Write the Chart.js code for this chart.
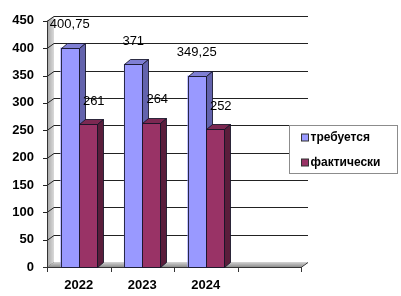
<!DOCTYPE html>
<html>
<head>
<meta charset="utf-8">
<script src="https://cdn.jsdelivr.net/npm/chart.js@4/dist/chart.umd.min.js"></script>
<style>
  html, body { margin: 0; padding: 0; background: #ffffff; }
  #wrap { width: 401px; height: 296px; position: relative; }
</style>
</head>
<body>
<div id="wrap"><canvas id="chart"></canvas></div>
<script>
// data (the 4th slot is empty in the original)
const years = ["2022", "2023", "2024", ""];
const required = [400.75, 371, 349.25, null];
const actual = [261, 264, 252, null];
const seriesNames = ["требуется", "фактически"];
const yMax = 450;
const yStep = 50;

const FONT = "'Liberation Sans', Arial, sans-serif";
const WALL_DX = 7;
const WALL_DY = 5;
const BAR_DX = 6;
const BAR_DY = 5;

const palette = [
  { front: "#9999ff", top: "#7f7fd4", side: "#6363ad" },
  { front: "#993366", top: "#7c2852", side: "#5a1d3b" },
];
const labelShift = [0, 6];

function formatValue(value) {
  return String(value).replace(".", ",");
}

function shape(ctx, points, fill) {
  ctx.beginPath();
  ctx.moveTo(points[0][0], points[0][1]);
  points.slice(1).forEach((p) => ctx.lineTo(p[0], p[1]));
  ctx.closePath();
  ctx.fillStyle = fill;
  ctx.fill();
  ctx.stroke();
}

const depthPlugin = {
  id: "depth3d",
  beforeDatasetsDraw(chart) {
    const { ctx, chartArea: area } = chart;
    const yScale = chart.scales.y;
    const xScale = chart.scales.x;
    const { left, right, top, bottom } = area;

    ctx.save();
    ctx.fillStyle = "#ffffff";
    ctx.fillRect(left + WALL_DX, top - WALL_DY, right - left, bottom - top);

    // left side wall
    const sideGrad = ctx.createLinearGradient(left, 0, left + WALL_DX, 0);
    sideGrad.addColorStop(0, "#a4a4a4");
    sideGrad.addColorStop(1, "#dadada");
    ctx.beginPath();
    ctx.moveTo(left, top);
    ctx.lineTo(left + WALL_DX, top - WALL_DY);
    ctx.lineTo(left + WALL_DX, bottom - WALL_DY);
    ctx.lineTo(left, bottom);
    ctx.closePath();
    ctx.fillStyle = sideGrad;
    ctx.fill();

    // gridlines on the back wall, ticks across the side wall
    ctx.lineWidth = 1;
    yScale.ticks.forEach((tick) => {
      const py = Math.round(yScale.getPixelForValue(tick.value)) + 0.5;
      ctx.strokeStyle = "#222222";
      ctx.beginPath();
      ctx.moveTo(left - 4, py);
      ctx.lineTo(left, py);
      ctx.lineTo(left + WALL_DX, py - WALL_DY);
      if (tick.value !== 0) {
        ctx.lineTo(right + WALL_DX, py - WALL_DY);
      }
      ctx.stroke();
    });

    // floor
    const floorGrad = ctx.createLinearGradient(0, bottom - WALL_DY, 0, bottom);
    floorGrad.addColorStop(0, "#d4d4d4");
    floorGrad.addColorStop(1, "#8e8e8e");
    ctx.beginPath();
    ctx.moveTo(left, bottom);
    ctx.lineTo(left + WALL_DX, bottom - WALL_DY);
    ctx.lineTo(right + WALL_DX, bottom - WALL_DY);
    ctx.lineTo(right, bottom);
    ctx.closePath();
    ctx.fillStyle = floorGrad;
    ctx.fill();

    // front axis lines
    ctx.strokeStyle = "#333333";
    ctx.beginPath();
    ctx.moveTo(left + 0.5, top);
    ctx.lineTo(left + 0.5, bottom);
    ctx.stroke();
    ctx.beginPath();
    ctx.moveTo(left - 4, bottom + 0.5);
    ctx.lineTo(right, bottom + 0.5);
    ctx.lineTo(right + WALL_DX, bottom - WALL_DY + 0.5);
    ctx.stroke();

    // category ticks
    const step = (right - left) / years.length;
    for (let i = 0; i <= years.length; i++) {
      const px = Math.round(left + step * i) + 0.5;
      ctx.beginPath();
      ctx.moveTo(px, bottom);
      ctx.lineTo(px, bottom + 5);
      ctx.stroke();
    }
    ctx.restore();
  },

  afterDatasetsDraw(chart) {
    const { ctx } = chart;
    ctx.save();
    ctx.lineWidth = 1;
    ctx.strokeStyle = "rgba(20, 20, 40, 0.85)";

    chart.data.datasets.forEach((dataset, di) => {
      const colors = palette[di];
      chart.getDatasetMeta(di).data.forEach((bar, i) => {
        if (dataset.data[i] == null) {
          return;
        }
        const x0 = Math.round(bar.x - bar.width / 2) + 0.5;
        const x1 = Math.round(bar.x + bar.width / 2) + 0.5;
        const yTop = Math.round(bar.y) + 0.5;
        const yBase = Math.round(bar.base) + 0.5;
        shape(ctx, [[x0, yTop], [x1, yTop], [x1, yBase], [x0, yBase]], colors.front);
        shape(ctx, [[x0, yTop], [x0 + BAR_DX, yTop - BAR_DY], [x1 + BAR_DX, yTop - BAR_DY], [x1, yTop]], colors.top);
        shape(ctx, [[x1, yTop], [x1 + BAR_DX, yTop - BAR_DY], [x1 + BAR_DX, yBase - BAR_DY], [x1, yBase]], colors.side);
      });
    });

    // value labels
    ctx.fillStyle = "#000000";
    ctx.font = "13px " + FONT;
    ctx.textAlign = "center";
    ctx.textBaseline = "middle";
    chart.data.datasets.forEach((dataset, di) => {
      chart.getDatasetMeta(di).data.forEach((bar, i) => {
        const value = dataset.data[i];
        if (value == null) {
          return;
        }
        ctx.fillText(formatValue(value), bar.x + labelShift[di], bar.y - 23);
      });
    });

    // legend box
    const boxLeft = chart.chartArea.right - 11.5;
    const boxTop = 125.5;
    ctx.fillStyle = "#ffffff";
    ctx.strokeStyle = "#8c8c8c";
    ctx.fillRect(boxLeft, boxTop, 108, 48);
    ctx.strokeRect(boxLeft, boxTop, 108, 48);
    ctx.font = "bold 12px " + FONT;
    ctx.textAlign = "left";
    chart.data.datasets.forEach((dataset, di) => {
      const cy = boxTop + 12 + di * 25;
      ctx.fillStyle = palette[di].front;
      ctx.strokeStyle = "#333333";
      ctx.fillRect(boxLeft + 12, cy - 3.5, 7, 7);
      ctx.strokeRect(boxLeft + 12, cy - 3.5, 7, 7);
      ctx.fillStyle = "#000000";
      ctx.fillText(dataset.label, boxLeft + 21, cy);
    });
    ctx.restore();
  },
};

new Chart(document.getElementById("chart"), {
  type: "bar",
  data: {
    labels: years,
    datasets: [
      { label: seriesNames[0], data: required, backgroundColor: palette[0].front, barThickness: 18 },
      { label: seriesNames[1], data: actual, backgroundColor: palette[1].front, barThickness: 18 },
    ],
  },
  options: {
    responsive: true,
    maintainAspectRatio: false,
    animation: false,
    layout: { padding: { top: 17, right: 100, bottom: 0, left: 0 } },
    plugins: {
      legend: { display: false },
      tooltip: { enabled: false },
    },
    scales: {
      x: {
        grid: { display: false, drawTicks: false },
        border: { display: false },
        ticks: { color: "#000000", font: { family: FONT, size: 13, weight: "bold" }, padding: 11, maxRotation: 0 },
        afterFit(scale) { scale.height = 29; },
      },
      y: {
        min: 0,
        max: yMax,
        grid: { display: false, drawTicks: false },
        border: { display: false },
        ticks: { stepSize: yStep, color: "#000000", font: { family: FONT, size: 13, weight: "bold" }, padding: 13 },
        afterFit(scale) { scale.width = 47; },
      },
    },
  },
  plugins: [depthPlugin],
});
</script>
</body>
</html>
